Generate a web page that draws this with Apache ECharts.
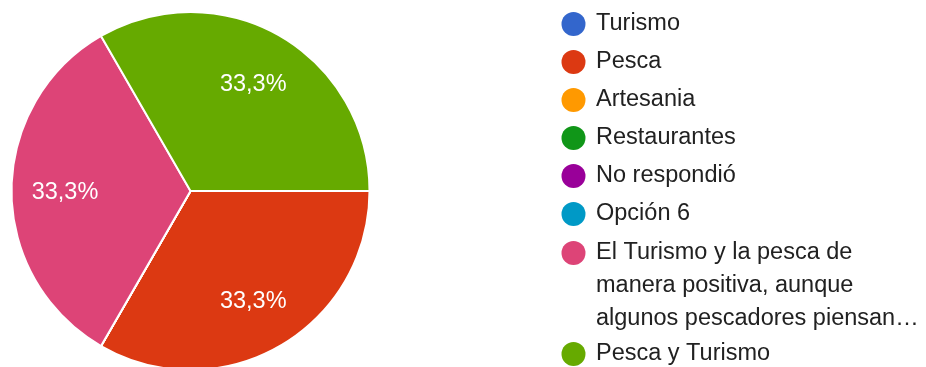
<!DOCTYPE html>
<html>
<head>
<meta charset="utf-8">
<script src="https://cdn.jsdelivr.net/npm/echarts@6/dist/echarts.min.js"></script>
<style>
  html, body { margin: 0; padding: 0; background: #ffffff; }
  #chart { width: 926px; height: 367px; }
</style>
</head>
<body>
<div id="chart"></div>
<script>
const categories = [
  'Turismo',
  'Pesca',
  'Artesania',
  'Restaurantes',
  'No respondió',
  'Opción 6',
  'El Turismo y la pesca de manera positiva, aunque algunos pescadores piensan…',
  'Pesca y Turismo'
];
const values = [0, 1, 0, 0, 0, 0, 1, 1];
const colors = ['#3366cc', '#dc3912', '#ff9900', '#109618', '#990099', '#0099c6', '#dd4477', '#66aa00'];
const wrappedLegendLines = ['El Turismo y la pesca de', 'manera positiva, aunque', 'algunos pescadores piensan…'];

const FONT = '"Liberation Sans", Arial, sans-serif';
const TEXT = '#212121';
const FS = 23.5;
const LH = 33;

const pieData = categories.map((name, i) => ({
  name: name,
  value: values[i],
  itemStyle: { color: colors[i] }
}));
const labelData = categories.map((name, i) => ({
  name: name,
  value: values[i],
  label: { show: values[i] > 0 }
}));

const legendCommon = {
  orient: 'vertical',
  left: 561.5,
  padding: 0,
  itemGap: 5,
  itemWidth: 35,
  itemHeight: 24,
  icon: 'circle',
  selectedMode: false,
  itemStyle: { borderWidth: 0 },
  textStyle: {
    fontFamily: FONT,
    fontSize: FS,
    lineHeight: LH,
    color: TEXT
  }
};

const chart = echarts.init(document.getElementById('chart'), null, { renderer: 'canvas' });
chart.setOption({
  animation: false,
  color: colors,
  legend: [
    Object.assign({}, legendCommon, {
      top: 7.5,
      data: categories.slice(0, 6)
    }),
    Object.assign({}, legendCommon, {
      top: 170.5,
      itemGap: 2,
      data: categories.slice(6),
      formatter: function (name) {
        if (name === categories[6]) {
          return '{a|' + wrappedLegendLines[0] + '}\n{b|' + wrappedLegendLines[1] + '}\n{b|' + wrappedLegendLines[2] + '}';
        }
        return name;
      },
      textStyle: Object.assign({}, legendCommon.textStyle, {
        rich: {
          a: { fontFamily: FONT, fontSize: FS, color: TEXT, lineHeight: LH * 3, height: LH, verticalAlign: 'bottom' },
          b: { fontFamily: FONT, fontSize: FS, color: TEXT, lineHeight: LH }
        }
      })
    })
  ],
  series: [
    {
      type: 'pie',
      center: [190.5, 191],
      radius: [0, 179],
      startAngle: 0,
      clockwise: true,
      avoidLabelOverlap: false,
      label: { show: false },
      labelLine: { show: false },
      itemStyle: { borderColor: '#ffffff', borderWidth: 2 },
      emphasis: { disabled: true },
      data: pieData
    },
    {
      type: 'pie',
      center: [190.5, 191],
      radius: [66, 179],
      startAngle: 0,
      clockwise: true,
      silent: true,
      avoidLabelOverlap: false,
      percentPrecision: 2,
      itemStyle: { color: 'rgba(0,0,0,0)', borderWidth: 0 },
      labelLine: { show: false },
      label: {
        show: true,
        position: 'inside',
        offset: [0, 2],
        color: '#ffffff',
        fontFamily: FONT,
        fontSize: FS,
        formatter: function (p) {
          if (!p.value) return '';
          return p.percent.toFixed(1).replace('.', ',') + '%';
        }
      },
      emphasis: { disabled: true },
      data: labelData
    }
  ]
});
</script>
</body>
</html>
